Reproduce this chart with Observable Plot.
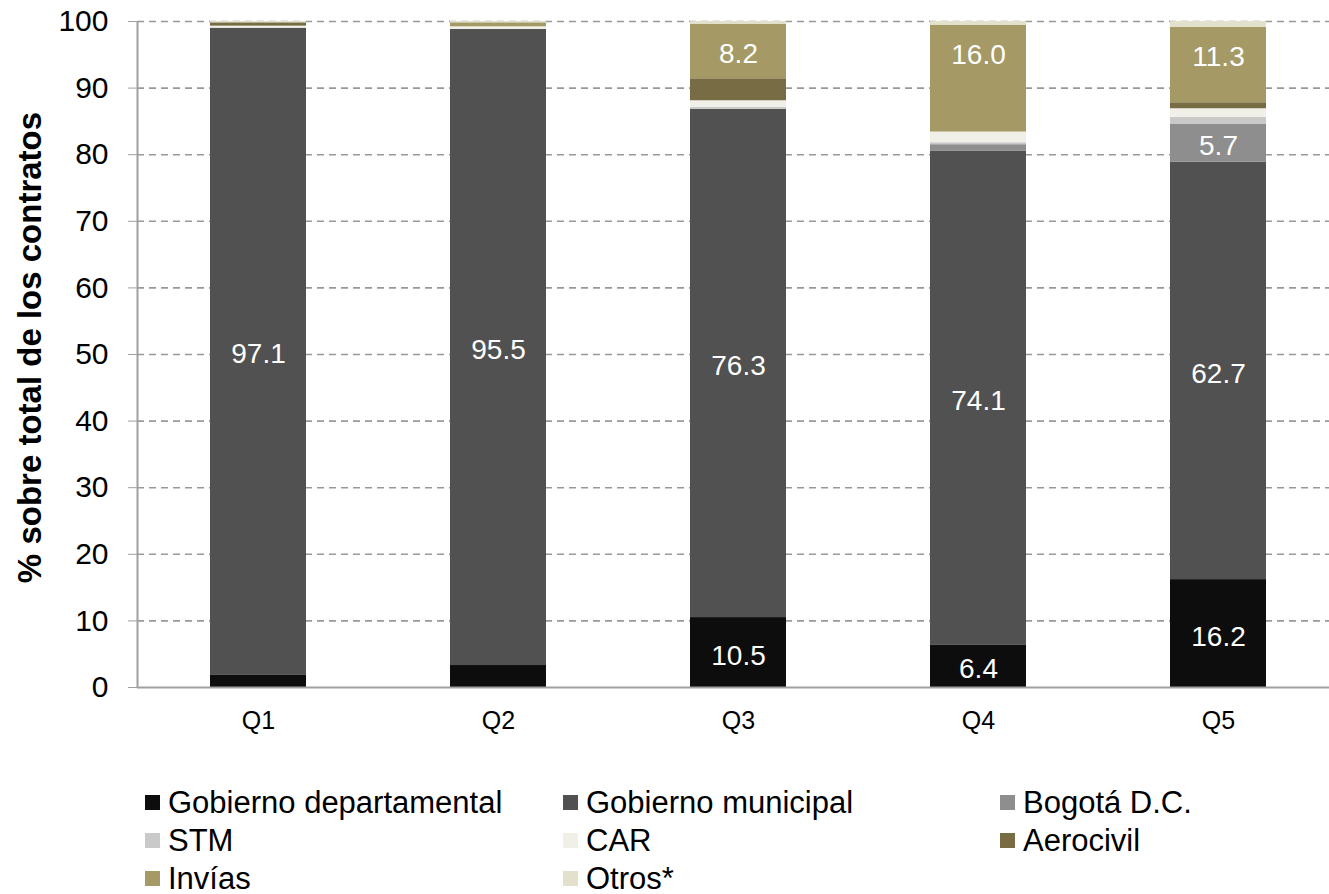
<!DOCTYPE html>
<html>
<head>
<meta charset="utf-8">
<script src="https://cdn.jsdelivr.net/npm/d3@7"></script>
<script src="https://cdn.jsdelivr.net/npm/@observablehq/plot@0.6"></script>
<style>
  body { margin: 0; background: #fff; font-family: "Liberation Sans", Arial, sans-serif; overflow: hidden; }
  #chart svg { display: block; }
  #legend { position: relative; padding-left: 145px; margin-top: 23px;
    display: grid; grid-template-columns: 418px 437px auto; grid-auto-rows: 38px; }
  .item { display: flex; align-items: center; font-size: 31px; line-height: 31px; color: #000; white-space: nowrap; }
  .sw { width: 15px; height: 15px; margin-right: 8px; flex: none; }
</style>
</head>
<body>
<div id="chart"></div>
<div id="legend"></div>
<script>
const quintiles = ["Q1", "Q2", "Q3", "Q4", "Q5"];
const seriesNames = ["Gobierno departamental", "Gobierno municipal", "Bogotá D.C.", "STM", "CAR", "Aerocivil", "Invías", "Otros*"];
const seriesColors = ["#0d0d0d", "#515151", "#8e8e8e", "#c9c9c9", "#f1f0e8", "#786c45", "#a59a66", "#e3e0cc"];
const depto     = [1.9, 3.3, 10.5, 6.4, 16.2];
const municipal = [97.1, 95.5, 76.3, 74.1, 62.7];
const bogota    = [0, 0, 0, 1.0, 5.7];
const stm       = [0, 0, 0.3, 0.3, 1.0];
const car       = [0.3, 0.4, 1.0, 1.6, 1.3];
const aerocivil = [0.5, 0, 3.3, 0, 0.9];
const invias    = [0, 0.6, 8.2, 16.0, 11.3];
const otros     = [0.2, 0.2, 0.4, 0.6, 0.9];
const yTicks = [0, 10, 20, 30, 40, 50, 60, 70, 80, 90, 100];

const seriesValues = [depto, municipal, bogota, stm, car, aerocivil, invias, otros];

// Build stacked rows
const rows = [];
quintiles.forEach((q, qi) => {
  let acc = 0;
  seriesNames.forEach((s, si) => {
    const v = seriesValues[si][qi];
    rows.push({q, s, v, y1: acc, y2: acc + v});
    acc += v;
  });
});
const labelled = rows.filter(d => d.v >= 5);
const midLabels = labelled.filter(d => d.s !== "Invías");
const topLabels = labelled.filter(d => d.s === "Invías");

const font = '"Liberation Sans", Arial, sans-serif';

const plot = Plot.plot({
  width: 1329,
  height: 760,
  marginLeft: 137,
  marginRight: 0,
  marginTop: 21,
  marginBottom: 73,
  style: {fontFamily: font, background: "#fff", overflow: "visible"},
  x: {domain: quintiles, range: [138, 1338], paddingInner: 0.6, paddingOuter: 0.3, label: null},
  y: {domain: [0, 100], label: null},
  color: {domain: seriesNames, range: seriesColors},
  marks: [
    Plot.gridY(yTicks.slice(1), {stroke: "#999", strokeOpacity: 1, strokeWidth: 1.6, strokeDasharray: "7,5"}),
    Plot.barY(rows, {x: "q", y1: "y1", y2: "y2", fill: "s", inset: 0}),
    Plot.text(midLabels, {x: "q", y: d => (d.y1 + d.y2) / 2, dy: 3, text: d => d.v.toFixed(1), fill: "#fff", fontSize: 28}),
    Plot.text(topLabels, {x: "q", y: "y2", dy: 30, text: d => d.v.toFixed(1), fill: "#fff", fontSize: 28}),
    Plot.ruleY([0], {stroke: "#a0a0a0", strokeWidth: 2}),
    Plot.axisY({ticks: yTicks, tickSize: 9, tickPadding: 20, fontSize: 30, label: null, stroke: "#a0a0a0", color: "#000"}),
    Plot.axisX({tickSize: 0, tickPadding: 24, fontSize: 25, label: null}),
    Plot.text(["% sobre total de los contratos"], {frameAnchor: "left", textAnchor: "middle", rotate: -90, dx: -107, dy: -7, fontWeight: "bold", fontSize: 33, fill: "#000"})
  ]
});

// y axis line drawn from the y scale
const ys = plot.scale("y");
d3.select(plot).append("line")
  .attr("x1", 137.5).attr("x2", 137.5)
  .attr("y1", ys.apply(0)).attr("y2", ys.apply(100))
  .attr("stroke", "#a0a0a0").attr("stroke-width", 2);

document.getElementById("chart").append(plot);

const legend = document.getElementById("legend");
seriesNames.forEach((s, i) => {
  const item = document.createElement("div");
  item.className = "item";
  const sw = document.createElement("span");
  sw.className = "sw";
  sw.style.background = seriesColors[i];
  item.append(sw, document.createTextNode(s));
  legend.append(item);
});
</script>
</body>
</html>
